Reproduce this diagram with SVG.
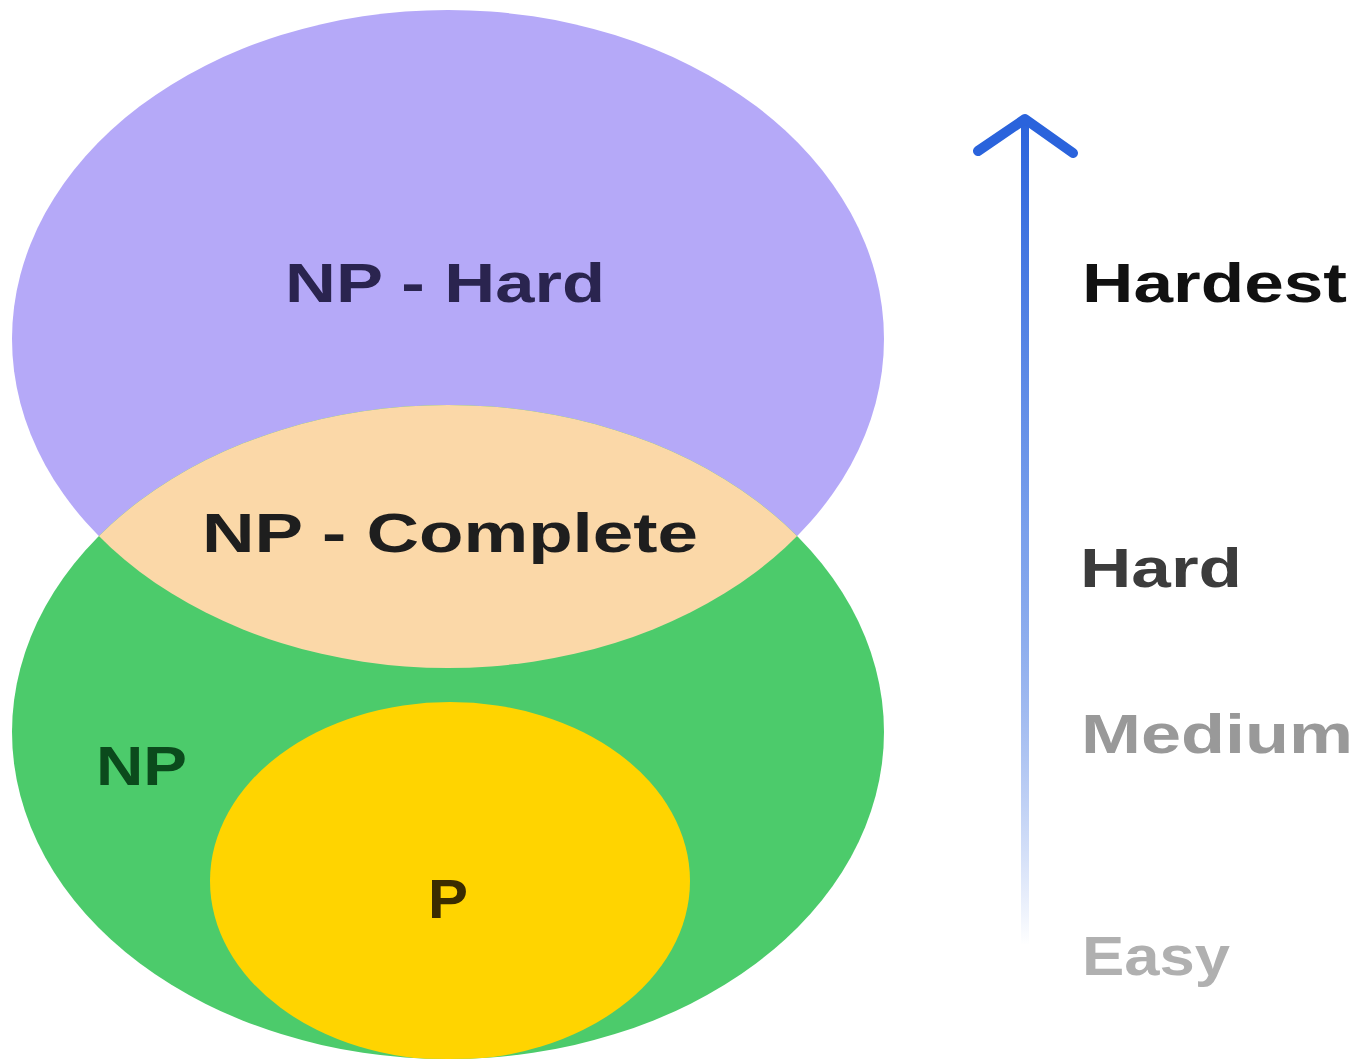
<svg xmlns="http://www.w3.org/2000/svg" width="1360" height="1064" viewBox="0 0 1360 1064">
  <style>
    .lbl { font-family: "Liberation Sans", Arial, sans-serif; font-weight: bold; font-size: 56px; }
  </style>
  <defs>
    <linearGradient id="shaft" x1="0" y1="118" x2="0" y2="945" gradientUnits="userSpaceOnUse">
      <stop offset="0" stop-color="#2a63dc"/>
      <stop offset="0.5" stop-color="#7aa0ec"/>
      <stop offset="1" stop-color="#2a63dc" stop-opacity="0"/>
    </linearGradient>
    <clipPath id="clipGreen">
      <ellipse cx="448" cy="732" rx="436" ry="327"/>
    </clipPath>
  </defs>
  <rect width="1360" height="1064" fill="#ffffff"/>

  <g id="np-hard">
    <ellipse cx="448" cy="339" rx="436" ry="329" fill="#b5a9f8"/>
    <text class="lbl" x="445" y="302" text-anchor="middle" fill="#2a244f" textLength="320" lengthAdjust="spacingAndGlyphs">NP - Hard</text>
  </g>

  <g id="np">
    <ellipse cx="448" cy="732" rx="436" ry="327" fill="#4ccb6b"/>
    <text class="lbl" x="96" y="785" fill="#0b4a1c" textLength="91" lengthAdjust="spacingAndGlyphs">NP</text>
  </g>

  <g id="np-complete">
    <ellipse cx="448" cy="339" rx="436" ry="329" fill="#fbd8a8" clip-path="url(#clipGreen)"/>
    <text class="lbl" x="450" y="552" text-anchor="middle" fill="#1e1e1e" textLength="496" lengthAdjust="spacingAndGlyphs">NP - Complete</text>
  </g>

  <g id="p">
    <ellipse cx="450" cy="881" rx="240" ry="179" fill="#ffd400" clip-path="url(#clipGreen)"/>
    <text class="lbl" x="448" y="918" text-anchor="middle" fill="#3a2c00" textLength="40" lengthAdjust="spacingAndGlyphs">P</text>
  </g>

  <g id="connectors">
    <line x1="1025" y1="122" x2="1025" y2="945" stroke="url(#shaft)" stroke-width="8"/>
    <polyline points="978,151 1025,119 1073,153" fill="none" stroke="#2a63dc" stroke-width="10" stroke-linecap="round" stroke-linejoin="round"/>
  </g>

  <g id="scale-labels">
    <text class="lbl" x="1082" y="302" fill="#111111" textLength="265" lengthAdjust="spacingAndGlyphs">Hardest</text>
    <text class="lbl" x="1080" y="587" fill="#3c3c3c" textLength="162" lengthAdjust="spacingAndGlyphs">Hard</text>
    <text class="lbl" x="1081" y="753" fill="#999999" textLength="272" lengthAdjust="spacingAndGlyphs">Medium</text>
    <text class="lbl" x="1082" y="975" fill="#b0b0b0" textLength="148" lengthAdjust="spacingAndGlyphs">Easy</text>
  </g>
</svg>
